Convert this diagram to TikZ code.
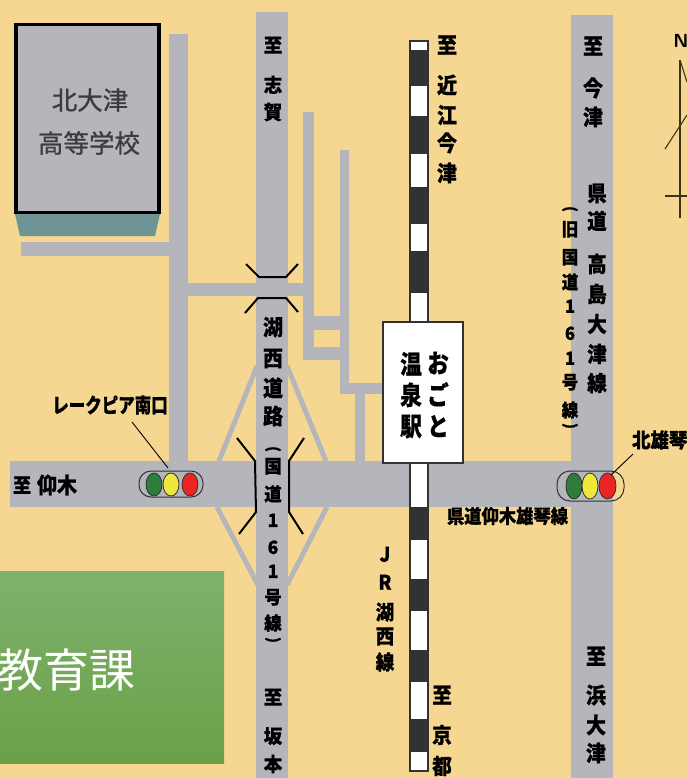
\documentclass[tikz,border=0pt]{standalone}
\usepackage{fontspec}
\newfontfamily\jp[BoldFeatures={FakeBold=0.6}]{Noto Sans CJK JP}
\newfontfamily\jpm[FakeBold=0.9]{Noto Sans CJK JP}
\usepackage{tikz}
\definecolor{bgc}{RGB}{245,215,145}
\definecolor{roadc}{RGB}{181,182,187}
\definecolor{tealc}{RGB}{110,148,150}
\definecolor{darkc}{RGB}{50,50,50}
\definecolor{schooltext}{RGB}{60,60,60}
\definecolor{gtop}{RGB}{126,178,110}
\definecolor{gbot}{RGB}{106,160,70}
\definecolor{gl}{RGB}{45,125,60}
\definecolor{yl}{RGB}{238,232,60}
\definecolor{rl}{RGB}{238,35,35}
\definecolor{compass}{RGB}{60,48,30}
\tikzset{
  x=1pt,y=-1pt,
  road/.style={fill=roadc,draw=none},
  slant/.style={draw=roadc,line width=5pt},
  bridge/.style={draw=black,line width=2pt},
  lab/.style 2 args={inner sep=0pt,outer sep=0pt,font=\jp\bfseries\fontsize{#1}{#1}\selectfont,text height=#1*#2*0.88pt,text depth=#1*#2*0.12pt},
  parenlab/.style={inner sep=0pt,outer sep=0pt,rotate=-90,font=\jp\bfseries\fontsize{15}{15}\selectfont},
  schoollab/.style={inner sep=0pt,text=schooltext,font=\jpm\fontsize{25.5}{25.5}\selectfont},
  railw/.style={fill=white,draw=darkc,line width=1.2pt},
  railb/.style={fill=darkc,draw=darkc,line width=.6pt},
  lampbox/.style={draw=darkc,line width=1pt,rounded corners=12pt},
  lamp/.style={draw=black!80,line width=.8pt},
  leader/.style={draw=black,line width=.9pt},
  compassline/.style={draw=compass,line width=1.1pt},
}
% prefix, x, size, vertical stretch, list of char/y
\newcommand{\vchars}[5]{%
  \foreach \cc/\yy in {#5}{\node[lab={#3}{#4},name=t#1\yy] at (#2,\yy) {\scalebox{1}[#4]{\cc}};}}
\begin{document}
\begin{tikzpicture}
\useasboundingbox (0,0) rectangle (687,778);
\clip (0,0) rectangle (687,778);
\fill[bgc] (0,0) rectangle (687,778);

% roads
\fill[road] (256,12) rectangle (288,778);
\fill[road] (571,15) rectangle (613,778);
\fill[road] (10,461) rectangle (571,507);
\fill[road] (169,34) rectangle (188,461);
\fill[road] (21,242) rectangle (170,256);
\fill[road] (188,283) rectangle (304,296);
\fill[road] (303,112) rectangle (314,360);
\fill[road] (340,150) rectangle (349,394);
\fill[road] (314,316) rectangle (340,330);
\fill[road] (303,347) rectangle (340,360);
\fill[road] (349,383) rectangle (383,394);
\fill[road] (355,394) rectangle (365,461);
% diamond
\draw[slant] (257,366) -- (219,461);
\draw[slant] (287,366) -- (326,461);
\draw[slant] (217,507) -- (258,585);
\draw[slant] (327,507) -- (287,585);
\fill[road] (256,340) rectangle (288,600);

% school
\fill[tealc] (15,214) -- (160,214) -- (155,236) -- (20,236) -- cycle;
\draw[fill=roadc,draw=black,line width=3.4pt] (16,24.5) rectangle (159,212.5);
\node[schoollab,name=sc1] at (90,100) {北大津};
\node[schoollab,name=sc2] at (89,143) {高等学校};

% bridges
\draw[bridge] (246,264) -- (259,277) -- (286,277) -- (298,264);
\draw[bridge] (245,313) -- (258,298) -- (286,298) -- (298,312);
\draw[bridge] (237,438) -- (255,461) -- (256,512) -- (239,534);
\draw[bridge] (304,438) -- (289,461) -- (289,512) -- (303,534);

% railway
\draw[railw] (410,41) rectangle (428,322);
\draw[railw] (410,463) rectangle (428,771);
\foreach \a/\b in {50/85,116/153,187/223,251/292,507/539,650/681,719/751}
  \fill[railb] (410,\a) rectangle (428,\b);
\fill[railb] (410,579) rectangle (426,610);
% station
\draw[fill=white,draw=darkc,line width=1.2pt] (383,322) rectangle (463,463);

% green panel
\shade[top color=gtop,bottom color=gbot] (0,571) rectangle (224,763);
\node[inner sep=0pt,anchor=west,text=white,font=\jp\fontsize{46}{46}\selectfont,name=panel] at (-3,670) {教育課};

% lights
\draw[lampbox] (139,471) rectangle (203,497);
\draw[lamp,fill=gl] (154,484.5) ellipse (8 and 11.5);
\draw[lamp,fill=yl] (171,484.5) ellipse (8 and 11.5);
\draw[lamp,fill=rl] (190,484.5) ellipse (8 and 11.5);
\draw[lampbox,rounded corners=13pt] (557,471) rectangle (624,501);
\draw[lamp,fill=gl] (574,486) ellipse (8 and 13);
\draw[lamp,fill=yl] (590,486) ellipse (8 and 13);
\draw[lamp,fill=rl] (607.5,486) ellipse (8.5 and 13);
\draw[leader] (132,422) -- (168,468);
\draw[leader] (633,454) -- (611,475);

% compass
\node[inner sep=0pt,font=\sffamily\bfseries\fontsize{19}{19}\selectfont,name=north] at (681,41) {N};
\draw[compassline] (680,60) -- (680,218);
\draw[compassline] (680,60) -- (687,82);
\draw[compassline] (665,149) -- (687,115);
\draw[compassline] (665,196) -- (687,196);

% labels
\vchars{a}{273}{18.5}{1.05}{至/45,志/85,賀/112}
\vchars{b}{273}{20}{1.1}{湖/327,西/358,道/388,路/416}
\node[parenlab,name=pc1] at (273,449) {(};
\vchars{c}{273}{17.5}{1.05}{国/466,道/494,1/520,6/547,1/571,号/597,線/623}
\node[parenlab,name=pc2] at (273,640) {)};
\vchars{d}{273}{18.5}{1.05}{至/697,坂/736,本/764}
\vchars{e}{447}{20}{1.1}{至/45,近/85,江/115,今/143,津/173}
\vchars{f}{593}{20}{1.1}{至/46,今/88,津/117}
\vchars{g}{597}{19.5}{1.1}{県/193,道/221,高/264,島/294,大/324,津/354,線/383}
\node[parenlab,name=ph1] at (570,209) {(};
\vchars{h}{570}{16.5}{1.1}{旧/229,国/257,道/282,1/306,6/333,1/358,号/382,線/410}
\node[parenlab,name=ph2] at (570,426) {)};
\vchars{i}{438}{21.5}{1.2}{お/363,ご/395,と/426}
\vchars{j}{411}{21.5}{1.2}{温/364,泉/395,駅/426}
\vchars{k}{385}{18.5}{1.1}{J/554,R/582,湖/612,西/636,線/662}
\vchars{l}{442}{19.5}{1.1}{至/695,京/735,都/766}
\vchars{m}{596}{20}{1.1}{至/656,浜/695,大/725,津/753}
\node[lab={18}{1.1},name=to] at (22,485) {\scalebox{1}[1.1]{至}};
\node[lab={20}{1.1},name=ogi] at (57,485) {\scalebox{1}[1.1]{仰木}};
\node[lab={16.5}{1.25},name=lake] at (110,405) {\scalebox{1}[1.25]{レークピア南口}};
\node[lab={18.5}{1.1},anchor=west,name=kita] at (632,440) {\scalebox{1}[1.1]{北雄琴}};
\node[lab={17.3}{1.1},name=kendo] at (507.5,516) {\scalebox{1}[1.1]{県道仰木雄琴線}};
\end{tikzpicture}
\end{document}
